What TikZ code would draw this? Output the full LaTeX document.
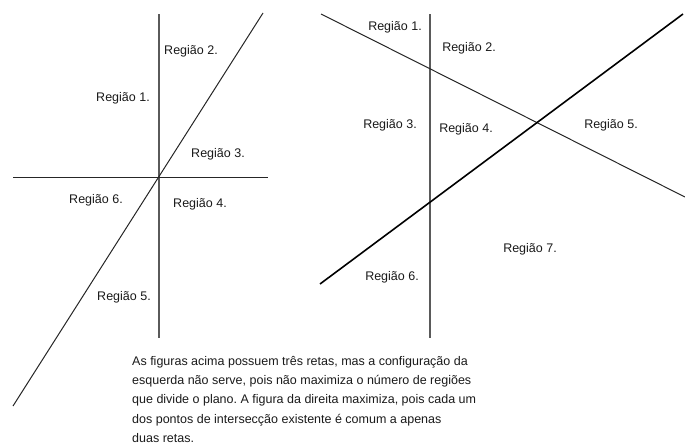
\documentclass[tikz,border=0pt]{standalone}
\usepackage{fontspec}
\setmainfont{Liberation Sans}
\frenchspacing
\definecolor{txt}{HTML}{1A1A1A}
\definecolor{vgray}{HTML}{5A5A5A}
\begin{document}
\begin{tikzpicture}[x=1pt,y=-1pt,
  lbl/.style={font=\fontsize{12.5}{15}\selectfont, text=txt, inner sep=0pt},
  para/.style={font=\fontsize{12.5}{19.3}\selectfont, text=txt, inner sep=0pt, align=left},
  vline/.style={draw=vgray, line width=2.2pt},
  thin/.style={draw=black!85, line width=1pt},
  thick/.style={draw=black, line width=1.6pt}]
\useasboundingbox (0,0) rectangle (685,447);
% ---------- left figure ----------
\coordinate (lvt) at (159,14);
\coordinate (lvb) at (159,338);
\coordinate (lhl) at (13,177);
\coordinate (lhr) at (268,177);
\coordinate (ldt) at (263,13);
\coordinate (ldb) at (13,406);
\draw[vline] (lvt) -- (lvb);
\draw[thin] (lhl) -- (lhr);
\draw[thin] (ldt) -- (ldb);
\node[lbl] (l1) at (123,98) {Região 1.};
\node[lbl] (l2) at (191,51) {Região 2.};
\node[lbl] (l3) at (218,154) {Região 3.};
\node[lbl] (l4) at (200,204) {Região 4.};
\node[lbl] (l5) at (124,297) {Região 5.};
\node[lbl] (l6) at (96,200) {Região 6.};
% ---------- right figure ----------
\coordinate (rvt) at (430,14);
\coordinate (rvb) at (430,338);
\coordinate (rat) at (321,14);
\coordinate (rab) at (685,197);
\coordinate (rbb) at (320,284);
\coordinate (rbt) at (683,14);
\draw[vline] (rvt) -- (rvb);
\draw[thin] (rat) -- (rab);
\draw[thick] (rbb) -- (rbt);
\node[lbl] (r1) at (395,27) {Região 1.};
\node[lbl] (r2) at (469,48) {Região 2.};
\node[lbl] (r3) at (390,125) {Região 3.};
\node[lbl] (r4) at (466,129) {Região 4.};
\node[lbl] (r5) at (611,125) {Região 5.};
\node[lbl] (r6) at (392,277) {Região 6.};
\node[lbl] (r7) at (530,249) {Região 7.};
% ---------- text ----------
\node[para, anchor=north west] (txtblock) at (132,356)
  {As figuras acima possuem três retas, mas a configuração da\\
   esquerda não serve, pois não maximiza o número de regiões\\
   que divide o plano. A figura da direita maximiza, pois cada um\\
   dos pontos de intersecção existente é comum a apenas\\
   duas retas.};
\end{tikzpicture}
\end{document}
